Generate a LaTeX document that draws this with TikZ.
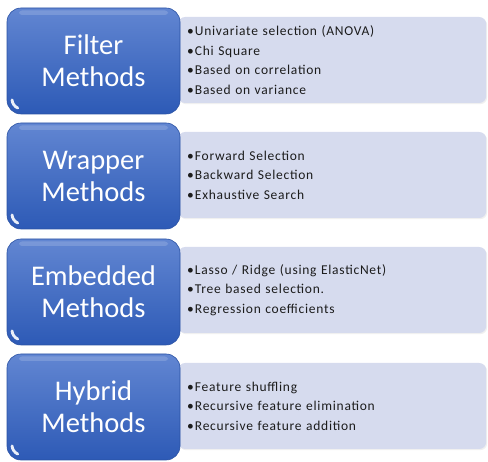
\documentclass[tikz,border=0pt]{standalone}
\usepackage{fontspec}
\setmainfont{Carlito}
\newfontfamily\listfont[LetterSpace=5.5]{Carlito}
\usepackage{tikz}
\usetikzlibrary{shadows}

\definecolor{methodtop}{HTML}{6286D2}
\definecolor{methodbot}{HTML}{2D5AB6}
\definecolor{methodedge}{HTML}{2A52A4}
\definecolor{listfill}{HTML}{D6DBEE}
\definecolor{listtext}{HTML}{1C1C1C}

\newcommand{\itm}[1]{\textbullet\hspace{1pt}#1}

\tikzset{
  method/.style={rounded corners=14pt, draw=methodedge, line width=.6pt,
    top color=methodtop, bottom color=methodbot,
    minimum width=173pt, minimum height=106pt, inner sep=0pt,
    align=center, text=white, font=\fontsize{28.5}{32}\selectfont,
    path picture={
      % glossy band along the top
      \fill[white, opacity=.16, rounded corners=3pt]
        ([xshift=12pt,yshift=-2.5pt]path picture bounding box.north west) rectangle
        ([xshift=-12pt,yshift=-7pt]path picture bounding box.north east);
      % shine in the lower left corner
      \draw[white, opacity=.9, line width=2.8pt, line cap=round]
        ([xshift=15pt,yshift=15pt]path picture bounding box.south west) ++(185:10pt)
        arc[start angle=185, end angle=245, radius=10pt];
    }},
  featlist/.style={rounded corners=7pt, fill=listfill,
    drop shadow={opacity=.12, shadow xshift=1pt, shadow yshift=-1.2pt},
    minimum height=86pt, text width=290pt, inner xsep=9pt,
    anchor=west, align=left, text=listtext,
    font=\listfont\fontsize{13.5}{19.5}\selectfont}
}

\begin{document}
\begin{tikzpicture}[x=1pt, y=-1pt]
    \useasboundingbox (0,0) rectangle (488,462);

    % Lists behind the method boxes
    \node[featlist] (filterlist) at (178,60) {\itm{Univariate selection (ANOVA)}\\ \itm{Chi Square}\\ \itm{Based on correlation}\\ \itm{Based on variance}};
    \node[featlist] (wrapperlist) at (178,175) {\itm{Forward Selection}\\ \itm{Backward Selection}\\ \itm{Exhaustive Search}};
    \node[featlist] (embeddedlist) at (178,290) {\itm{Lasso / Ridge (using ElasticNet)}\\ \itm{Tree based selection.}\\ \itm{Regression coefficients}};
    \node[featlist] (hybridlist) at (178,406) {\itm{Feature shuffling}\\ \itm{Recursive feature elimination}\\ \itm{Recursive feature addition}};

    % Method boxes
    \node[method] (filter) at (93.5,61) {Filter\\Methods};
    \node[method] (wrapper) at (93.5,176) {Wrapper\\Methods};
    \node[method] (embedded) at (93.5,292) {Embedded\\Methods};
    \node[method] (hybrid) at (93.5,407) {Hybrid\\Methods};
\end{tikzpicture}
\end{document}
